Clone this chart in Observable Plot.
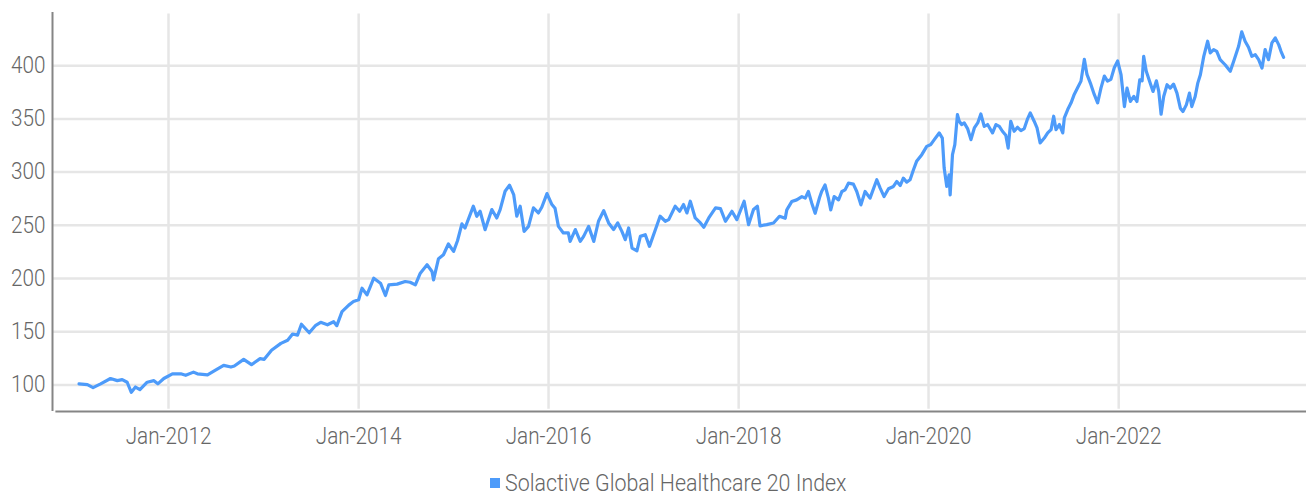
<!DOCTYPE html>
<html><head><meta charset="utf-8">
<script src="https://cdn.jsdelivr.net/npm/d3@7"></script>
<script src="https://cdn.jsdelivr.net/npm/@observablehq/plot@0.6"></script>
<style>
html,body{margin:0;padding:0;background:#fff;}
#wrap{position:relative;width:1306px;height:496px;overflow:hidden;}
#legend{position:absolute;left:490px;top:470px;height:26px;display:flex;align-items:center;font-family:Roboto,"DejaVu Sans",sans-serif;font-weight:300;font-size:23px;color:#666;white-space:nowrap;}
#legend .sw{width:10px;height:10px;background:#4d9bfa;margin-right:5px;}
#legend .tx{display:inline-block;transform:scaleX(0.93);transform-origin:left center;}
</style></head><body>
<div id="wrap"><div id="chart"></div><div id="legend"><span class="sw"></span><span class="tx" id="legtext"></span></div></div>
<script>
const seriesName = "Solactive Global Healthcare 20 Index";
const dates = [
"2011-01-22","2011-02-23","2011-03-17","2011-04-15","2011-05-23","2011-06-18","2011-07-07","2011-07-26","2011-08-11","2011-08-27",
"2011-09-13","2011-10-11","2011-11-06","2011-11-21","2011-12-14","2012-01-16","2012-02-17","2012-03-07","2012-04-06","2012-04-21",
"2012-05-30","2012-06-28","2012-07-31","2012-08-28","2012-09-10","2012-10-16","2012-11-15","2012-12-18","2013-01-03","2013-01-31",
"2013-03-08","2013-04-03","2013-04-22","2013-05-11","2013-05-26","2013-06-25","2013-07-20","2013-08-08","2013-09-03","2013-09-27",
"2013-10-09","2013-10-29","2013-11-24","2013-12-12","2014-01-01","2014-01-14","2014-02-02","2014-02-28","2014-03-26","2014-04-14",
"2014-04-27","2014-05-29","2014-06-29","2014-07-18","2014-08-07","2014-08-26","2014-09-21","2014-10-10","2014-10-16","2014-11-04",
"2014-11-23","2014-12-12","2015-01-01","2015-01-16","2015-02-02","2015-02-14","2015-03-18","2015-03-31","2015-04-13","2015-05-02",
"2015-05-28","2015-06-16","2015-06-29","2015-07-18","2015-08-04","2015-08-20","2015-09-01","2015-09-14","2015-09-29","2015-10-16",
"2015-11-04","2015-11-23","2015-12-06","2015-12-26","2016-01-14","2016-01-26","2016-02-08","2016-02-27","2016-03-17","2016-03-24",
"2016-04-13","2016-05-02","2016-05-15","2016-06-03","2016-06-23","2016-07-11","2016-07-31","2016-08-19","2016-09-07","2016-09-23",
"2016-10-09","2016-10-22","2016-11-04","2016-11-17","2016-12-06","2016-12-19","2017-01-07","2017-01-23","2017-02-15","2017-03-05",
"2017-03-25","2017-04-07","2017-05-02","2017-05-19","2017-06-03","2017-06-16","2017-06-29","2017-07-18","2017-08-07","2017-08-20",
"2017-09-08","2017-10-04","2017-10-23","2017-11-11","2017-12-06","2017-12-25","2018-01-22","2018-02-08","2018-02-27","2018-03-14",
"2018-03-24","2018-04-19","2018-05-15","2018-06-07","2018-06-29","2018-07-05","2018-07-24","2018-08-12","2018-09-01","2018-09-14",
"2018-09-26","2018-10-09","2018-10-22","2018-11-08","2018-11-16","2018-11-29","2018-12-12","2018-12-21","2019-01-03","2019-01-20",
"2019-02-02","2019-02-14","2019-02-27","2019-03-18","2019-03-31","2019-04-16","2019-05-02","2019-05-21","2019-06-16","2019-06-29",
"2019-07-14","2019-07-31","2019-08-19","2019-09-01","2019-09-14","2019-09-26","2019-10-09","2019-10-22","2019-11-04","2019-11-16",
"2019-12-06","2019-12-25","2020-01-10","2020-01-23","2020-02-11","2020-02-23","2020-03-01","2020-03-11","2020-03-20","2020-03-24",
"2020-04-02","2020-04-11","2020-04-21","2020-04-28","2020-05-07","2020-05-17","2020-05-30","2020-06-12","2020-06-25","2020-07-08",
"2020-07-20","2020-08-02","2020-08-15","2020-09-03","2020-09-16","2020-09-29","2020-10-11","2020-10-24","2020-11-02","2020-11-12",
"2020-11-25","2020-12-08","2020-12-21","2021-01-03","2021-01-16","2021-01-26","2021-02-10","2021-02-21","2021-03-05","2021-03-21",
"2021-04-03","2021-04-16","2021-04-26","2021-05-05","2021-05-18","2021-05-31","2021-06-06","2021-06-19","2021-07-02","2021-07-14",
"2021-07-27","2021-08-09","2021-08-22","2021-09-01","2021-09-16","2021-09-29","2021-10-12","2021-10-25","2021-11-07","2021-11-19",
"2021-12-02","2021-12-15","2021-12-28","2022-01-10","2022-01-23","2022-02-02","2022-02-15","2022-02-28","2022-03-12","2022-03-23",
"2022-04-01","2022-04-07","2022-04-17","2022-04-30","2022-05-13","2022-05-26","2022-06-04","2022-06-13","2022-06-23","2022-07-06",
"2022-07-18","2022-07-31","2022-08-13","2022-08-26","2022-09-05","2022-09-18","2022-09-30","2022-10-09","2022-10-22","2022-11-01",
"2022-11-11","2022-11-24","2022-12-09","2022-12-19","2023-01-01","2023-01-13","2023-01-26","2023-02-14","2023-03-06","2023-03-21",
"2023-04-07","2023-04-19","2023-05-02","2023-05-15","2023-05-28","2023-06-10","2023-06-23","2023-07-06","2023-07-18","2023-07-31",
"2023-08-13","2023-08-26","2023-09-08","2023-09-17","2023-09-27"
];
const values = [
101,100.3,97.5,101,106,104,105,102.5,93,98,
95.6,102.5,104,101,106,110.4,110.4,109,112,110.4,
109.5,113.6,118.4,116.8,117.7,124,119,124.7,124,132.6,
139,142,147.8,146.8,157,149,156,158.8,156.5,159.4,
155.7,168.9,175,178.3,180,190.9,184.6,200.3,195.6,184,
194,194.7,197.2,196.5,194,205,212.9,206.6,198.7,218.6,
222.3,232.4,225.5,235.5,251.3,247.5,268,258.5,263.2,245.9,
264.8,256.9,264.8,282,287.7,278.9,258.5,268,244.3,249,
266.4,261.6,267,279.8,269.5,266,249,242.8,242.8,234.9,
246,234.9,239.6,249,234.9,253.8,263.8,252.2,246,252.2,
244.3,236.5,247.5,228.6,226.1,239.6,241.2,230.2,246,258.5,
253.8,255.3,267.9,263.2,269.5,261.6,272.6,256.9,252.2,248.1,
256.9,266.4,265.7,253.8,263.2,255.3,272.6,250.6,264.8,267.9,
249.5,250.6,252.2,258.5,256.6,264.5,272.3,273.9,277,275.5,
281.8,270.8,261.3,276.1,281.8,288,275.5,264.5,277,273.9,
281.8,283.3,289.6,288.7,281.8,269.2,281.8,275.5,292.8,284.9,
277,284.3,286.5,291.2,287.4,294.3,290.6,292.8,302.2,310.1,
316.4,324.2,326,330.5,336.8,332,303.8,286.5,297.5,278.6,
316.4,325.8,354,347.8,344.7,346.2,340.9,330.5,341.5,346.2,
354.7,343,344.7,336.8,344.7,343,338.4,334.6,322.6,347.8,
338.4,342.1,339,340.9,350.3,355.7,347.8,341.5,327.4,332,
336.8,339.9,352.5,339.9,344.7,336.8,350.9,358.8,365.1,373,
379.2,385.5,406,391.8,382.4,373,365.1,379.2,390.3,385.5,
387.1,398.1,404.4,391.5,361.6,378.9,366.4,371.1,366.4,386.8,
385.8,408.8,394.7,385.2,375.8,385.8,375.8,354.4,371.1,382.1,
378.9,382.7,374.2,360.1,356.9,363.2,374.2,361.6,371.1,383.6,
391.5,408.8,423,412,415.1,413.5,405.7,400.9,394.7,405.7,
418.2,431.8,423,417.3,408.8,410.4,405.7,397.8,415.1,405.7,
421.4,426.1,419.8,413.5,407.9
];
const yTicks = [100,150,200,250,300,350,400];
const xTicks = ["2012-01-01","2014-01-01","2016-01-01","2018-01-01","2020-01-01","2022-01-01"];
const xTickLabels = ["Jan-2012","Jan-2014","Jan-2016","Jan-2018","Jan-2020","Jan-2022"];
const xDomain = ["2010-10-12","2023-12-24"];
const yDomain = [75,450];

const data = dates.map((d,i)=>({date:new Date(d), value:values[i]}));
const xTickDates = xTicks.map(t=>new Date(t));
const labelFor = new Map(xTickDates.map((t,i)=>[+t, xTickLabels[i]]));
const x0 = new Date(xDomain[0]), x1 = new Date(xDomain[1]);

const plot = Plot.plot({
  width:1306, height:460,
  marginLeft:52, marginRight:0, marginTop:12, marginBottom:49,
  style:{fontFamily:"Roboto, 'DejaVu Sans', sans-serif", fontSize:"23px", fontWeight:300, color:"#666", background:"#fff", overflow:"visible"},
  x:{type:"utc", domain:[x0,x1], label:null},
  y:{domain:yDomain, label:null},
  marks:[
    Plot.ruleY(yTicks, {stroke:"#e6e6e6", strokeWidth:2.5}),
    Plot.ruleX(xTickDates, {y1:448.5, y2:77, stroke:"#e6e6e6", strokeWidth:2.5}),
    Plot.axisY(yTicks, {tickSize:0, tickPadding:7, fontSize:23, label:null}),
    Plot.axisX(xTickDates, {tickSize:0, tickPadding:16, fontSize:23, label:null, tickFormat:d=>labelFor.get(+d)}),
    Plot.ruleX([x0], {stroke:"#858585", strokeWidth:2}),
    Plot.ruleY([yDomain[0]], {x1:new Date("2010-10-25"), x2:x1, stroke:"#858585", strokeWidth:2}),
    Plot.lineY(data, {x:"date", y:"value", stroke:"#4d9bfa", strokeWidth:3.2, strokeLinejoin:"round"})
  ]
});
plot.querySelectorAll('g[aria-label$="tick label"] text').forEach(t=>{
  const tr = t.getAttribute("transform") || "";
  t.setAttribute("transform", tr + " scale(0.9,1)");
});
document.getElementById("chart").appendChild(plot);
document.getElementById("legtext").textContent = seriesName;
</script>
</body></html>
